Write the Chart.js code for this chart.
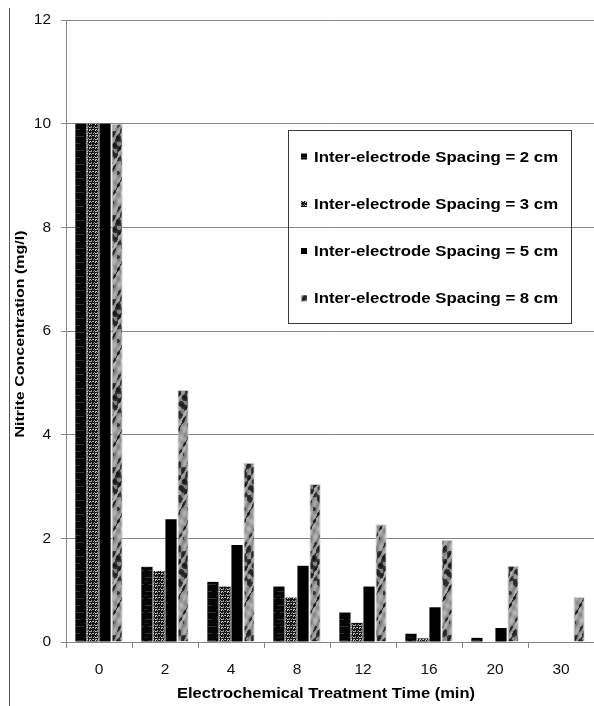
<!DOCTYPE html>
<html>
<head>
<meta charset="utf-8">
<title>Nitrite Concentration vs Electrochemical Treatment Time</title>
<script src="https://cdn.jsdelivr.net/npm/chart.js@4.4.0/dist/chart.umd.min.js"></script>
<style>
  html, body { margin: 0; padding: 0; background: #ffffff; }
  #wrap { width: 594px; height: 706px; }
</style>
</head>
<body>
<div id="wrap"><canvas id="chart" width="594" height="706"></canvas></div>
<script>
// Treatment times (min) on the x axis
const treatmentTimes = ['0', '2', '4', '8', '12', '16', '20', '30'];

// Nitrite concentration (mg/l) for each inter-electrode spacing
const spacing2cm = [10, 1.45, 1.16, 1.07, 0.57, 0.16, 0.08, 0];
const spacing3cm = [10, 1.37, 1.07, 0.86, 0.37, 0.07, 0, 0];
const spacing5cm = [10, 2.37, 1.87, 1.47, 1.07, 0.67, 0.27, 0];
const spacing8cm = [10, 4.86, 3.46, 3.05, 2.27, 1.97, 1.47, 0.87];

const seriesLabels = [
  'Inter-electrode Spacing = 2 cm',
  'Inter-electrode Spacing = 3 cm',
  'Inter-electrode Spacing = 5 cm',
  'Inter-electrode Spacing = 8 cm'
];

const yTicks = [0, 2, 4, 6, 8, 10, 12];

const xTitle = 'Electrochemical Treatment Time (min)';
const yTitle = 'Nitrite Concentration (mg/l)';

// ---- texture fills for the bars ----
function makeTile(w, h, paint) {
  const c = document.createElement('canvas');
  c.width = w; c.height = h;
  const g = c.getContext('2d');
  paint(g, w, h);
  return g.createPattern(c, 'repeat');
}

// near-black with faint horizontal streaks
const fillDarkStreak = makeTile(12, 14, (g, w, h) => {
  g.fillStyle = '#060606'; g.fillRect(0, 0, w, h);
  g.fillStyle = '#2e2e2e';
  g.fillRect(1, 3, 7, 1);
  g.fillRect(4, 10, 8, 1);
  g.fillStyle = '#1a1a1a';
  g.fillRect(0, 7, 5, 1);
});

// black weave with light speckles
const fillSpeckle = makeTile(6, 6, (g, w, h) => {
  g.fillStyle = '#161616'; g.fillRect(0, 0, w, h);
  const cells = [
    '.x..x.',
    'xx.x.x',
    '......',
    'x.xx.x',
    '.x...x',
    '......'
  ];
  for (let y = 0; y < h; y++) {
    for (let x = 0; x < w; x++) {
      if (cells[y][x] === 'x') {
        g.fillStyle = ((x + y) % 3 === 0) ? '#d0d0d0' : '#8c8c8c';
        g.fillRect(x, y, 1, 1);
      }
    }
  }
});

// gray marble with dark blotches
const fillMarble = makeTile(14, 84, (g, w, h) => {
  const img = g.createImageData(w, h);
  const TAU = Math.PI * 2;
  for (let y = 0; y < h; y++) {
    for (let x = 0; x < w; x++) {
      const u = x / w, v = y / h;
      const a = Math.sin(TAU * (u + 4 * v) + 2.0 * Math.sin(TAU * (3 * v + u)));
      const b = Math.sin(TAU * (u - 7 * v) + 0.9 + 1.2 * Math.sin(TAU * 2 * v));
      const c = Math.sin(TAU * (2 * u + 5 * v) + 2.1);
      const n = 0.55 * a + 0.35 * b + 0.2 * c;
      let val;
      if (n > 0.25) val = 20 + 60 * (1 - n);
      else val = 135 + 50 * (0.25 - n) * 0.7 + 18 * c;
      val = Math.max(10, Math.min(210, val));
      const i = (y * w + x) * 4;
      img.data[i] = img.data[i + 1] = img.data[i + 2] = val;
      img.data[i + 3] = 255;
    }
  }
  g.putImageData(img, 0, 0);
});

const seriesFills = [fillDarkStreak, fillSpeckle, '#000000', fillMarble];

const fontFamily = '"Liberation Sans", Arial, sans-serif';

// text drawn with a horizontal stretch (wide Arial look)
function wideText(ctx, text, x, y, font, stretch, align) {
  ctx.save();
  ctx.font = font;
  ctx.translate(x, y);
  ctx.scale(stretch, 1);
  ctx.textAlign = align;
  ctx.fillText(text, 0, 0);
  ctx.restore();
}

// ---- plugins: page border line, axis titles and in-plot legend box ----
const frameLine = {
  id: 'frameLine',
  beforeDraw(chart) {
    const ctx = chart.ctx;
    ctx.save();
    ctx.strokeStyle = '#555555';
    ctx.lineWidth = 1;
    ctx.beginPath();
    ctx.moveTo(9.5, 8);
    ctx.lineTo(9.5, 706);
    ctx.stroke();
    ctx.restore();
  }
};

const axisTitles = {
  id: 'axisTitles',
  afterDraw(chart) {
    const ctx = chart.ctx;
    const area = chart.chartArea;
    ctx.save();
    ctx.fillStyle = '#000000';
    ctx.textBaseline = 'alphabetic';
    wideText(ctx, xTitle, 326, 698, 'bold 14px ' + fontFamily, 1.18, 'center');
    ctx.translate(24, (area.top + area.bottom) / 2 + 3);
    ctx.rotate(-Math.PI / 2);
    wideText(ctx, yTitle, 0, 0, 'bold 13px ' + fontFamily, 1.23, 'center');
    ctx.restore();
  }
};

const boxLegend = {
  id: 'boxLegend',
  afterDraw(chart) {
    const ctx = chart.ctx;
    const box = { x: 288.5, y: 130.5, w: 283, h: 193 };
    ctx.save();
    ctx.strokeStyle = '#3a3a3a';
    ctx.lineWidth = 1;
    ctx.strokeRect(box.x, box.y, box.w, box.h);
    ctx.textBaseline = 'alphabetic';
    const rows = [156.5, 204, 251, 298.3];
    chart.data.datasets.forEach((ds, i) => {
      const cy = rows[i];
      ctx.fillStyle = ds.backgroundColor;
      ctx.fillRect(301, cy - 3, 6, 6);
      ctx.fillStyle = '#000000';
      wideText(ctx, ds.label, 314, cy + 5, 'bold 14px ' + fontFamily, 1.2, 'left');
    });
    ctx.restore();
  }
};

const gridGray = '#868686';
const tickFont = { family: fontFamily, size: 15.5 };

new Chart(document.getElementById('chart'), {
  type: 'bar',
  data: {
    labels: treatmentTimes,
    datasets: [spacing2cm, spacing3cm, spacing5cm, spacing8cm].map((vals, i) => ({
      label: seriesLabels[i],
      data: vals,
      backgroundColor: seriesFills[i],
      borderColor: i === 3 ? '#cfcfcf' : 'rgba(0,0,0,0)',
      borderWidth: i === 3 ? 1 : 0,
      categoryPercentage: 0.73,
      barPercentage: 0.93
    }))
  },
  options: {
    responsive: false,
    animation: false,
    layout: { padding: { left: 0, top: 20, right: 0, bottom: 0 } },
    plugins: {
      legend: { display: false },
      tooltip: { enabled: false }
    },
    scales: {
      x: {
        grid: {
          offset: true,
          drawOnChartArea: false,
          drawTicks: true,
          tickLength: 6,
          color: gridGray
        },
        border: { color: gridGray, width: 1 },
        ticks: { color: '#111111', font: tickFont, padding: 12, maxRotation: 0 },
        title: { display: false, text: xTitle },
        afterFit(scale) { scale.height = 64; }
      },
      y: {
        min: 0,
        max: 12,
        afterBuildTicks(scale) { scale.ticks = yTicks.map(v => ({ value: v })); },
        grid: { color: gridGray, tickLength: 5, drawTicks: true },
        border: { color: gridGray, width: 1 },
        ticks: { color: '#111111', font: tickFont, padding: 10 },
        title: { display: false, text: yTitle },
        afterFit(scale) { scale.width = 66; }
      }
    }
  },
  plugins: [frameLine, axisTitles, boxLegend]
});
</script>
</body>
</html>
